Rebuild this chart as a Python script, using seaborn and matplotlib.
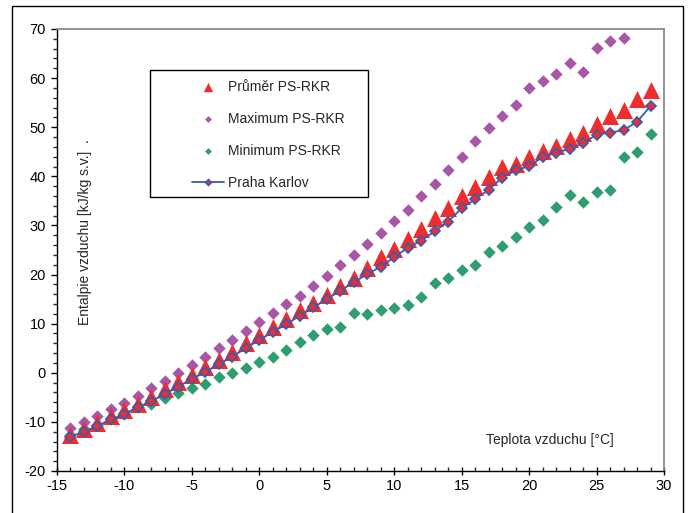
import matplotlib
matplotlib.use("Agg")
import matplotlib.pyplot as plt
from matplotlib.patches import Rectangle
from matplotlib.ticker import MultipleLocator
import seaborn as sns
import pandas as pd

temps = list(range(-14, 30))
temps_max = list(range(-14, 28))

prumer = [-12.7, -11.5, -10.3, -8.8, -7.6, -6.3, -4.9, -3.4, -1.8, -0.4,
          1.1, 2.6, 4.3, 6.0, 7.7, 9.3, 11.0, 12.7, 14.3, 15.9,
          17.6, 19.3, 21.3, 23.5, 25.3, 27.2, 29.3, 31.5, 33.6, 35.9,
          37.9, 39.9, 41.8, 42.5, 44.0, 45.2, 46.2, 47.7, 48.9, 50.7,
          52.3, 53.6, 55.7, 57.6]
maximum = [-11.3, -10.0, -8.8, -7.4, -6.1, -4.7, -3.2, -1.6, 0.0, 1.6,
           3.3, 5.0, 6.7, 8.5, 10.4, 12.1, 14.0, 15.7, 17.7, 19.8,
           21.9, 24.0, 26.2, 28.4, 30.9, 33.1, 35.9, 38.4, 41.2, 43.9,
           47.1, 49.9, 52.3, 54.5, 57.9, 59.5, 60.8, 63.0, 61.3, 66.2,
           67.6, 68.2]
minimum = [-12.7, -11.4, -10.6, -9.5, -8.4, -7.0, -6.4, -5.2, -4.1, -3.0,
           -2.3, -0.8, 0.0, 1.0, 2.1, 3.3, 4.6, 6.2, 7.6, 8.9,
           9.4, 12.2, 11.9, 12.8, 13.1, 13.8, 15.5, 18.2, 19.2, 20.9,
           22.0, 24.5, 25.9, 27.6, 29.7, 31.1, 33.7, 36.2, 34.7, 36.9,
           37.2, 44.0, 45.0, 48.6]
karlov = [-13.0, -12.0, -10.8, -9.5, -8.4, -7.0, -5.8, -4.3, -2.8, -1.3,
          0.2, 1.7, 3.3, 5.0, 6.7, 8.3, 9.9, 11.6, 13.3, 15.0,
          16.7, 18.4, 20.1, 21.6, 23.5, 25.5, 26.9, 28.8, 30.8, 33.5,
          35.3, 37.3, 39.7, 41.2, 42.1, 43.9, 44.8, 45.6, 46.7, 48.5,
          48.9, 49.4, 51.1, 54.3]

labels = ["Průměr PS-RKR", "Maximum PS-RKR", "Minimum PS-RKR", "Praha Karlov"]
xlabel = "Teplota vzduchu [°C]"
ylabel = "Entalpie vzduchu [kJ/kg s.v.]  ."

sns.set_style("ticks")
plt.rcParams["font.family"] = ["Liberation Sans", "DejaVu Sans"]
plt.rcParams["axes.unicode_minus"] = False

RED = "#EE2E2E"
PURPLE = "#A857A6"
GREEN = "#2E9E70"
BLUE = "#3A5AAE"

fig = plt.figure(figsize=(6.89, 5.13), dpi=100)
W, H = 689, 513
ax = fig.add_axes([57 / W, 1 - 471 / H, 607 / W, 442 / H])

df_p = pd.DataFrame({"t": temps, "v": prumer})
df_max = pd.DataFrame({"t": temps_max, "v": maximum})
df_min = pd.DataFrame({"t": temps, "v": minimum})
df_k = pd.DataFrame({"t": temps, "v": karlov})

sns.scatterplot(data=df_p, x="t", y="v", ax=ax, marker="^", s=150, color=RED,
                linewidth=0, label=labels[0], zorder=3)
sns.scatterplot(data=df_max, x="t", y="v", ax=ax, marker="D", s=40, color=PURPLE,
                linewidth=0, label=labels[1], zorder=2)
sns.scatterplot(data=df_min, x="t", y="v", ax=ax, marker="D", s=40, color=GREEN,
                linewidth=0, label=labels[2], zorder=2)
sns.lineplot(data=df_k, x="t", y="v", ax=ax, color=BLUE, linewidth=1.3,
             marker="D", markersize=5.5, markerfacecolor=RED, markeredgecolor=BLUE,
             markeredgewidth=1.2, label=labels[3], zorder=4)

ax.set_xlim(-15, 30)
ax.set_ylim(-20, 70)
ax.xaxis.set_major_locator(MultipleLocator(5))
ax.xaxis.set_minor_locator(MultipleLocator(1))
ax.yaxis.set_major_locator(MultipleLocator(10))
ax.yaxis.set_minor_locator(MultipleLocator(2))
ax.set_xlabel("")
ax.set_ylabel("")

ax.tick_params(axis="x", which="major", direction="inout", length=6, width=1,
               labelsize=10.5, colors="black", pad=3)
ax.tick_params(axis="x", which="minor", direction="in", length=3, width=1)
ax.tick_params(axis="y", which="major", direction="out", length=4, width=1,
               labelsize=10.5, colors="black", pad=4)
ax.tick_params(axis="y", which="minor", direction="out", length=3, width=1)

for side in ["left", "bottom"]:
    ax.spines[side].set_color("black")
    ax.spines[side].set_linewidth(1.0)
for side in ["top", "right"]:
    ax.spines[side].set_visible(True)
    ax.spines[side].set_color("#8a8a8a")
    ax.spines[side].set_linewidth(1.3)

ax.text(0.046, 0.541, ylabel, transform=ax.transAxes, rotation=90,
        ha="center", va="center", fontsize=10)
ax.text(0.812, 0.070, xlabel, transform=ax.transAxes,
        ha="center", va="center", fontsize=10)

# legend box
x0 = (150 - 57) / 607
x1 = (368 - 57) / 607
y1 = (471 - 70) / 442
y0 = (471 - 197) / 442
ax.add_patch(Rectangle((x0, y0), x1 - x0, y1 - y0, transform=ax.transAxes,
                       facecolor="white", edgecolor="black", linewidth=1.0, zorder=5))
leg = ax.legend(loc="upper left", bbox_to_anchor=((192 - 57) / 607, (471 - 80) / 442),
                frameon=False, fontsize=10, handlelength=2.3, handletextpad=0.3,
                labelspacing=1.3, borderpad=0, borderaxespad=0, markerscale=0.55)
leg.set_zorder(6)

# outer border
fig.patches.append(Rectangle((12 / W, -0.05), (683 - 12) / W, 1.05 - 6 / H,
                             transform=fig.transFigure, fill=False,
                             edgecolor="black", linewidth=1.0))

fig.savefig("out.png", dpi=100)
